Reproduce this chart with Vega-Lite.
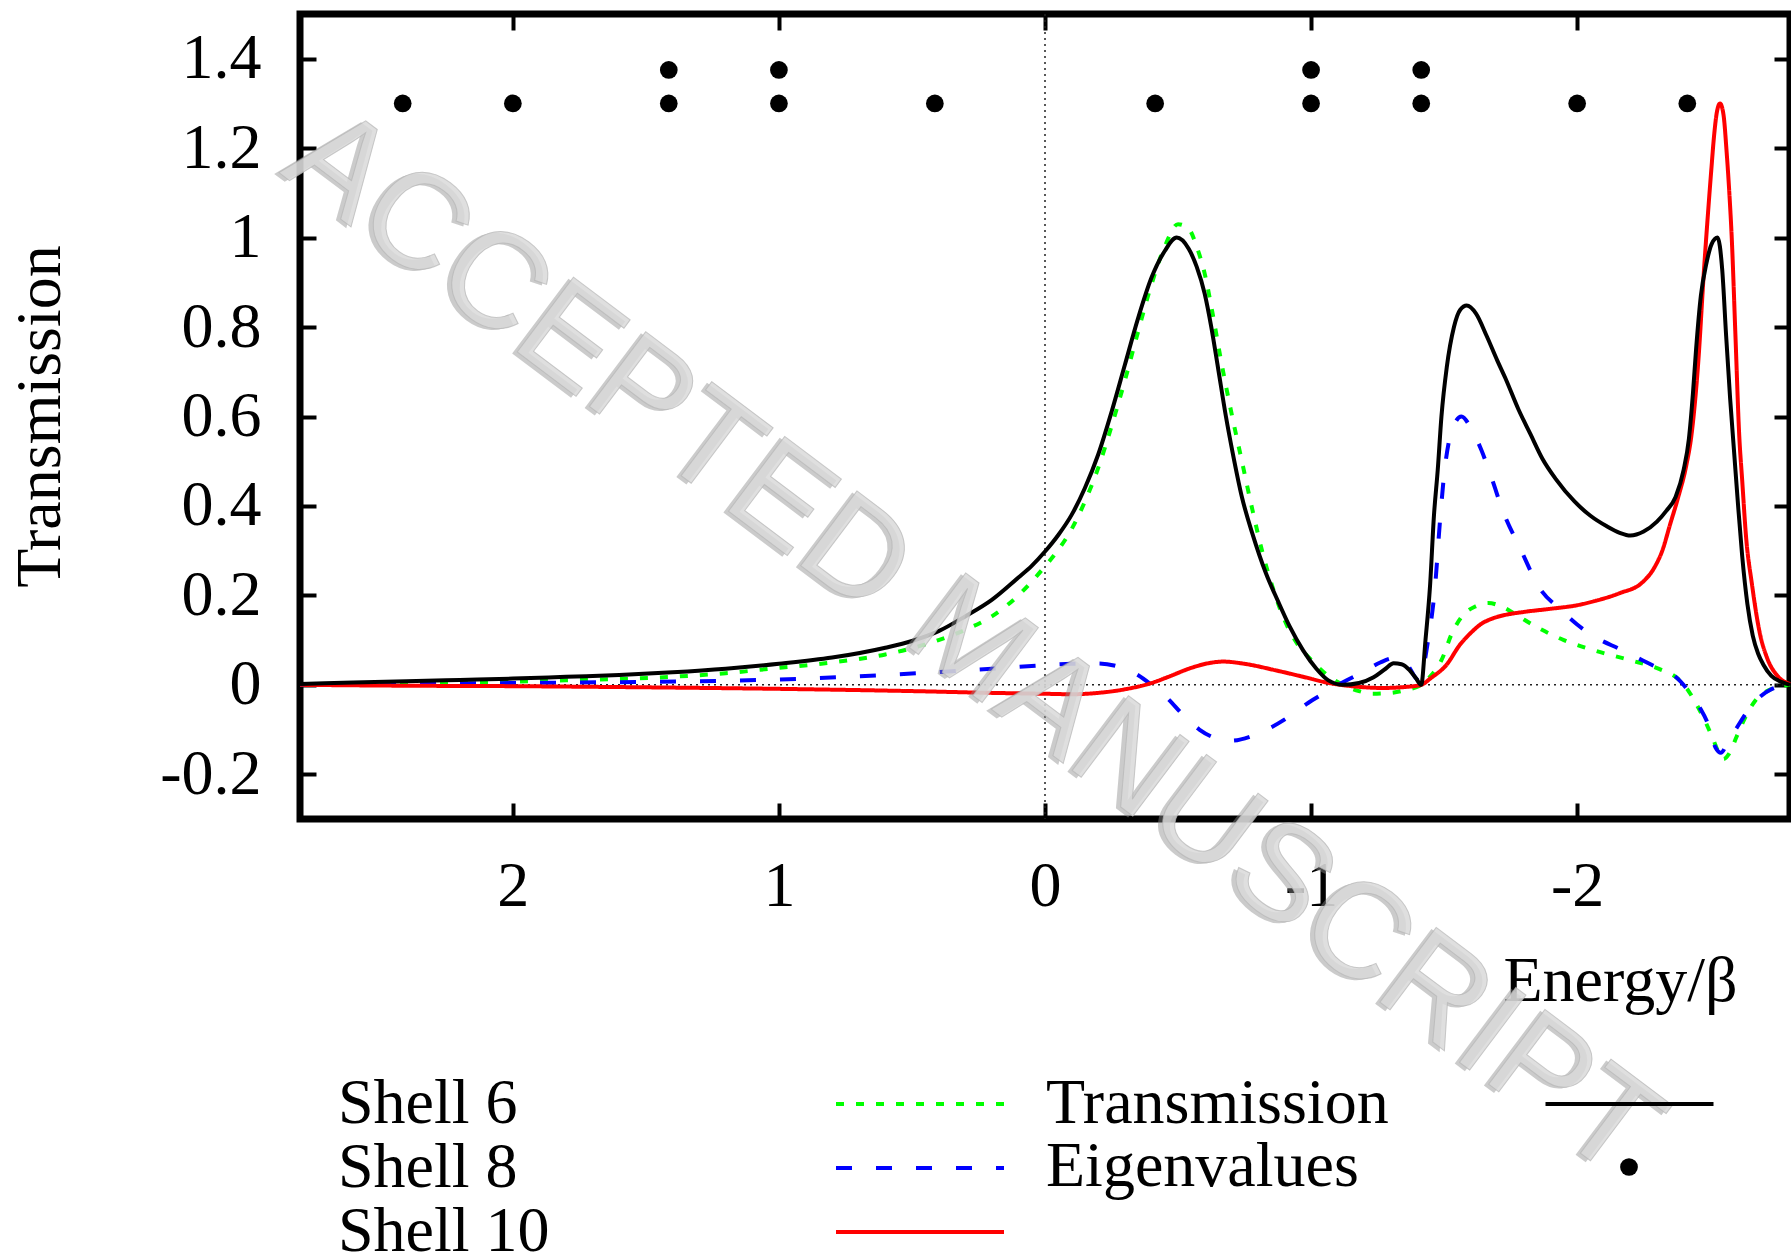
{
  "$schema": "https://vega.github.io/schema/vega-lite/v6.json",
  "autosize": {"type": "none"},
  "width": 1490,
  "height": 805,
  "padding": {"left": 300, "top": 14, "right": 1, "bottom": 439},
  "background": "white",
  "config": {
    "view": {"stroke": "black", "strokeWidth": 7},
    "font": "Liberation Serif",
    "axis": {"grid": false, "domain": false, "tickColor": "black", "tickWidth": 4, "tickSize": -16, "labelFont": "Liberation Serif", "labelFontSize": 64, "labelColor": "black", "titleFont": "Liberation Serif", "titleFontSize": 64, "titleFontWeight": "normal", "titleColor": "black", "labelOverlap": false, "labelFlush": false}
  },
  "datasets": {
    "shells": [
      {"series": "Shell 6", "E": 2.8, "T": 0.0}, {"series": "Shell 6", "E": 2.6, "T": 0.002}, {"series": "Shell 6", "E": 2.4, "T": 0.003}, {"series": "Shell 6", "E": 2.2, "T": 0.005}, {"series": "Shell 6", "E": 2.0, "T": 0.007}, {"series": "Shell 6", "E": 1.8, "T": 0.01}, {"series": "Shell 6", "E": 1.6, "T": 0.013}, {"series": "Shell 6", "E": 1.4, "T": 0.018}, {"series": "Shell 6", "E": 1.2, "T": 0.026}, {"series": "Shell 6", "E": 1.0, "T": 0.038}, {"series": "Shell 6", "E": 0.8, "T": 0.05}, {"series": "Shell 6", "E": 0.6, "T": 0.068}, {"series": "Shell 6", "E": 0.5, "T": 0.082}, {"series": "Shell 6", "E": 0.4, "T": 0.1}, {"series": "Shell 6", "E": 0.3, "T": 0.123}, {"series": "Shell 6", "E": 0.2, "T": 0.153}, {"series": "Shell 6", "E": 0.1, "T": 0.2}, {"series": "Shell 6", "E": 0.0, "T": 0.265}, {"series": "Shell 6", "E": -0.05, "T": 0.302}, {"series": "Shell 6", "E": -0.1, "T": 0.348}, {"series": "Shell 6", "E": -0.15, "T": 0.41}, {"series": "Shell 6", "E": -0.2, "T": 0.485}, {"series": "Shell 6", "E": -0.25, "T": 0.578}, {"series": "Shell 6", "E": -0.3, "T": 0.68}, {"series": "Shell 6", "E": -0.35, "T": 0.79}, {"series": "Shell 6", "E": -0.4, "T": 0.895}, {"series": "Shell 6", "E": -0.45, "T": 0.98}, {"series": "Shell 6", "E": -0.5, "T": 1.03}, {"series": "Shell 6", "E": -0.54, "T": 1.02}, {"series": "Shell 6", "E": -0.57, "T": 0.98}, {"series": "Shell 6", "E": -0.6, "T": 0.92}, {"series": "Shell 6", "E": -0.63, "T": 0.83}, {"series": "Shell 6", "E": -0.66, "T": 0.73}, {"series": "Shell 6", "E": -0.7, "T": 0.61}, {"series": "Shell 6", "E": -0.74, "T": 0.5}, {"series": "Shell 6", "E": -0.78, "T": 0.39}, {"series": "Shell 6", "E": -0.82, "T": 0.29}, {"series": "Shell 6", "E": -0.86, "T": 0.21}, {"series": "Shell 6", "E": -0.9, "T": 0.145}, {"series": "Shell 6", "E": -0.95, "T": 0.09}, {"series": "Shell 6", "E": -1.0, "T": 0.056}, {"series": "Shell 6", "E": -1.06, "T": 0.022}, {"series": "Shell 6", "E": -1.12, "T": 0.0}, {"series": "Shell 6", "E": -1.18, "T": -0.014}, {"series": "Shell 6", "E": -1.23, "T": -0.02}, {"series": "Shell 6", "E": -1.3, "T": -0.018}, {"series": "Shell 6", "E": -1.36, "T": -0.011}, {"series": "Shell 6", "E": -1.414, "T": 0.0}, {"series": "Shell 6", "E": -1.45, "T": 0.02}, {"series": "Shell 6", "E": -1.49, "T": 0.055}, {"series": "Shell 6", "E": -1.53, "T": 0.116}, {"series": "Shell 6", "E": -1.57, "T": 0.155}, {"series": "Shell 6", "E": -1.62, "T": 0.176}, {"series": "Shell 6", "E": -1.666, "T": 0.183}, {"series": "Shell 6", "E": -1.72, "T": 0.174}, {"series": "Shell 6", "E": -1.78, "T": 0.153}, {"series": "Shell 6", "E": -1.855, "T": 0.127}, {"series": "Shell 6", "E": -1.95, "T": 0.1}, {"series": "Shell 6", "E": -2.07, "T": 0.076}, {"series": "Shell 6", "E": -2.2, "T": 0.055}, {"series": "Shell 6", "E": -2.31, "T": 0.035}, {"series": "Shell 6", "E": -2.38, "T": 0.013}, {"series": "Shell 6", "E": -2.42, "T": -0.015}, {"series": "Shell 6", "E": -2.45, "T": -0.045}, {"series": "Shell 6", "E": -2.48, "T": -0.08}, {"series": "Shell 6", "E": -2.51, "T": -0.12}, {"series": "Shell 6", "E": -2.535, "T": -0.155}, {"series": "Shell 6", "E": -2.55, "T": -0.166}, {"series": "Shell 6", "E": -2.57, "T": -0.155}, {"series": "Shell 6", "E": -2.6, "T": -0.115}, {"series": "Shell 6", "E": -2.63, "T": -0.075}, {"series": "Shell 6", "E": -2.67, "T": -0.035}, {"series": "Shell 6", "E": -2.72, "T": -0.012}, {"series": "Shell 6", "E": -2.76, "T": -0.004}, {"series": "Shell 6", "E": -2.8, "T": 0.0},

      {"series": "Shell 8", "E": 2.8, "T": 0.0}, {"series": "Shell 8", "E": 2.4, "T": 0.002}, {"series": "Shell 8", "E": 2.0, "T": 0.004}, {"series": "Shell 8", "E": 1.6, "T": 0.006}, {"series": "Shell 8", "E": 1.3, "T": 0.008}, {"series": "Shell 8", "E": 1.0, "T": 0.012}, {"series": "Shell 8", "E": 0.7, "T": 0.019}, {"series": "Shell 8", "E": 0.42, "T": 0.028}, {"series": "Shell 8", "E": 0.2, "T": 0.036}, {"series": "Shell 8", "E": 0.0, "T": 0.044}, {"series": "Shell 8", "E": -0.1, "T": 0.047}, {"series": "Shell 8", "E": -0.2, "T": 0.048}, {"series": "Shell 8", "E": -0.28, "T": 0.04}, {"series": "Shell 8", "E": -0.34, "T": 0.025}, {"series": "Shell 8", "E": -0.4, "T": 0.0}, {"series": "Shell 8", "E": -0.46, "T": -0.03}, {"series": "Shell 8", "E": -0.52, "T": -0.068}, {"series": "Shell 8", "E": -0.58, "T": -0.1}, {"series": "Shell 8", "E": -0.645, "T": -0.12}, {"series": "Shell 8", "E": -0.7, "T": -0.125}, {"series": "Shell 8", "E": -0.776, "T": -0.115}, {"series": "Shell 8", "E": -0.85, "T": -0.095}, {"series": "Shell 8", "E": -0.92, "T": -0.07}, {"series": "Shell 8", "E": -0.99, "T": -0.04}, {"series": "Shell 8", "E": -1.06, "T": -0.015}, {"series": "Shell 8", "E": -1.12, "T": 0.006}, {"series": "Shell 8", "E": -1.2, "T": 0.03}, {"series": "Shell 8", "E": -1.26, "T": 0.05}, {"series": "Shell 8", "E": -1.313, "T": 0.06}, {"series": "Shell 8", "E": -1.36, "T": 0.046}, {"series": "Shell 8", "E": -1.405, "T": 0.01}, {"series": "Shell 8", "E": -1.44, "T": 0.1}, {"series": "Shell 8", "E": -1.466, "T": 0.22}, {"series": "Shell 8", "E": -1.485, "T": 0.37}, {"series": "Shell 8", "E": -1.5, "T": 0.47}, {"series": "Shell 8", "E": -1.52, "T": 0.55}, {"series": "Shell 8", "E": -1.545, "T": 0.59}, {"series": "Shell 8", "E": -1.565, "T": 0.6}, {"series": "Shell 8", "E": -1.6, "T": 0.575}, {"series": "Shell 8", "E": -1.64, "T": 0.525}, {"series": "Shell 8", "E": -1.68, "T": 0.46}, {"series": "Shell 8", "E": -1.72, "T": 0.39}, {"series": "Shell 8", "E": -1.79, "T": 0.3}, {"series": "Shell 8", "E": -1.855, "T": 0.22}, {"series": "Shell 8", "E": -1.94, "T": 0.167}, {"series": "Shell 8", "E": -2.0, "T": 0.135}, {"series": "Shell 8", "E": -2.07, "T": 0.106}, {"series": "Shell 8", "E": -2.16, "T": 0.08}, {"series": "Shell 8", "E": -2.245, "T": 0.055}, {"series": "Shell 8", "E": -2.31, "T": 0.036}, {"series": "Shell 8", "E": -2.37, "T": 0.018}, {"series": "Shell 8", "E": -2.42, "T": -0.015}, {"series": "Shell 8", "E": -2.46, "T": -0.05}, {"series": "Shell 8", "E": -2.49, "T": -0.085}, {"series": "Shell 8", "E": -2.52, "T": -0.14}, {"series": "Shell 8", "E": -2.54, "T": -0.152}, {"series": "Shell 8", "E": -2.565, "T": -0.13}, {"series": "Shell 8", "E": -2.6, "T": -0.096}, {"series": "Shell 8", "E": -2.66, "T": -0.043}, {"series": "Shell 8", "E": -2.73, "T": -0.01}, {"series": "Shell 8", "E": -2.8, "T": 0.0},

      {"series": "Shell 10", "E": 2.8, "T": 0.0}, {"series": "Shell 10", "E": 2.4, "T": -0.002}, {"series": "Shell 10", "E": 2.0, "T": -0.003}, {"series": "Shell 10", "E": 1.6, "T": -0.005}, {"series": "Shell 10", "E": 1.0, "T": -0.009}, {"series": "Shell 10", "E": 0.5, "T": -0.014}, {"series": "Shell 10", "E": 0.2, "T": -0.018}, {"series": "Shell 10", "E": 0.0, "T": -0.02}, {"series": "Shell 10", "E": -0.1, "T": -0.021}, {"series": "Shell 10", "E": -0.2, "T": -0.018}, {"series": "Shell 10", "E": -0.3, "T": -0.01}, {"series": "Shell 10", "E": -0.4, "T": 0.004}, {"series": "Shell 10", "E": -0.46, "T": 0.017}, {"series": "Shell 10", "E": -0.55, "T": 0.038}, {"series": "Shell 10", "E": -0.62, "T": 0.049}, {"series": "Shell 10", "E": -0.67, "T": 0.052}, {"series": "Shell 10", "E": -0.75, "T": 0.047}, {"series": "Shell 10", "E": -0.87, "T": 0.032}, {"series": "Shell 10", "E": -0.97, "T": 0.018}, {"series": "Shell 10", "E": -1.06, "T": 0.005}, {"series": "Shell 10", "E": -1.17, "T": -0.004}, {"series": "Shell 10", "E": -1.27, "T": -0.007}, {"series": "Shell 10", "E": -1.35, "T": -0.005}, {"series": "Shell 10", "E": -1.414, "T": 0.0}, {"series": "Shell 10", "E": -1.45, "T": 0.015}, {"series": "Shell 10", "E": -1.508, "T": 0.044}, {"series": "Shell 10", "E": -1.56, "T": 0.09}, {"series": "Shell 10", "E": -1.6, "T": 0.116}, {"series": "Shell 10", "E": -1.639, "T": 0.136}, {"series": "Shell 10", "E": -1.68, "T": 0.148}, {"series": "Shell 10", "E": -1.72, "T": 0.155}, {"series": "Shell 10", "E": -1.8, "T": 0.163}, {"series": "Shell 10", "E": -1.9, "T": 0.17}, {"series": "Shell 10", "E": -2.0, "T": 0.178}, {"series": "Shell 10", "E": -2.07, "T": 0.188}, {"series": "Shell 10", "E": -2.16, "T": 0.205}, {"series": "Shell 10", "E": -2.245, "T": 0.229}, {"series": "Shell 10", "E": -2.29, "T": 0.262}, {"series": "Shell 10", "E": -2.32, "T": 0.3}, {"series": "Shell 10", "E": -2.35, "T": 0.36}, {"series": "Shell 10", "E": -2.38, "T": 0.42}, {"series": "Shell 10", "E": -2.41, "T": 0.49}, {"series": "Shell 10", "E": -2.43, "T": 0.56}, {"series": "Shell 10", "E": -2.455, "T": 0.72}, {"series": "Shell 10", "E": -2.477, "T": 0.93}, {"series": "Shell 10", "E": -2.49, "T": 1.04}, {"series": "Shell 10", "E": -2.504, "T": 1.15}, {"series": "Shell 10", "E": -2.515, "T": 1.23}, {"series": "Shell 10", "E": -2.525, "T": 1.28}, {"series": "Shell 10", "E": -2.537, "T": 1.3}, {"series": "Shell 10", "E": -2.55, "T": 1.275}, {"series": "Shell 10", "E": -2.562, "T": 1.19}, {"series": "Shell 10", "E": -2.572, "T": 1.1}, {"series": "Shell 10", "E": -2.581, "T": 1.0}, {"series": "Shell 10", "E": -2.595, "T": 0.78}, {"series": "Shell 10", "E": -2.609, "T": 0.56}, {"series": "Shell 10", "E": -2.62, "T": 0.46}, {"series": "Shell 10", "E": -2.635, "T": 0.33}, {"series": "Shell 10", "E": -2.657, "T": 0.225}, {"series": "Shell 10", "E": -2.685, "T": 0.12}, {"series": "Shell 10", "E": -2.714, "T": 0.06}, {"series": "Shell 10", "E": -2.75, "T": 0.022}, {"series": "Shell 10", "E": -2.8, "T": 0.002}
    ],
    "exact": [
      {"kind": "Transmission", "E": 2.8, "T": 0.002}, {"kind": "Transmission", "E": 2.6, "T": 0.005}, {"kind": "Transmission", "E": 2.4, "T": 0.008}, {"kind": "Transmission", "E": 2.2, "T": 0.011}, {"kind": "Transmission", "E": 2.0, "T": 0.014}, {"kind": "Transmission", "E": 1.8, "T": 0.018}, {"kind": "Transmission", "E": 1.6, "T": 0.022}, {"kind": "Transmission", "E": 1.4, "T": 0.028}, {"kind": "Transmission", "E": 1.2, "T": 0.036}, {"kind": "Transmission", "E": 1.0, "T": 0.047}, {"kind": "Transmission", "E": 0.8, "T": 0.061}, {"kind": "Transmission", "E": 0.6, "T": 0.083}, {"kind": "Transmission", "E": 0.5, "T": 0.098}, {"kind": "Transmission", "E": 0.4, "T": 0.12}, {"kind": "Transmission", "E": 0.3, "T": 0.153}, {"kind": "Transmission", "E": 0.2, "T": 0.19}, {"kind": "Transmission", "E": 0.1, "T": 0.24}, {"kind": "Transmission", "E": 0.05, "T": 0.266}, {"kind": "Transmission", "E": 0.0, "T": 0.298}, {"kind": "Transmission", "E": -0.05, "T": 0.335}, {"kind": "Transmission", "E": -0.1, "T": 0.38}, {"kind": "Transmission", "E": -0.15, "T": 0.44}, {"kind": "Transmission", "E": -0.2, "T": 0.515}, {"kind": "Transmission", "E": -0.25, "T": 0.61}, {"kind": "Transmission", "E": -0.3, "T": 0.715}, {"kind": "Transmission", "E": -0.35, "T": 0.82}, {"kind": "Transmission", "E": -0.4, "T": 0.91}, {"kind": "Transmission", "E": -0.45, "T": 0.97}, {"kind": "Transmission", "E": -0.495, "T": 1.0}, {"kind": "Transmission", "E": -0.54, "T": 0.975}, {"kind": "Transmission", "E": -0.57, "T": 0.935}, {"kind": "Transmission", "E": -0.6, "T": 0.875}, {"kind": "Transmission", "E": -0.625, "T": 0.8}, {"kind": "Transmission", "E": -0.65, "T": 0.71}, {"kind": "Transmission", "E": -0.68, "T": 0.6}, {"kind": "Transmission", "E": -0.705, "T": 0.52}, {"kind": "Transmission", "E": -0.74, "T": 0.42}, {"kind": "Transmission", "E": -0.78, "T": 0.337}, {"kind": "Transmission", "E": -0.83, "T": 0.25}, {"kind": "Transmission", "E": -0.875, "T": 0.188}, {"kind": "Transmission", "E": -0.92, "T": 0.13}, {"kind": "Transmission", "E": -0.97, "T": 0.077}, {"kind": "Transmission", "E": -1.02, "T": 0.036}, {"kind": "Transmission", "E": -1.065, "T": 0.01}, {"kind": "Transmission", "E": -1.12, "T": 0.0}, {"kind": "Transmission", "E": -1.18, "T": 0.004}, {"kind": "Transmission", "E": -1.235, "T": 0.017}, {"kind": "Transmission", "E": -1.28, "T": 0.036}, {"kind": "Transmission", "E": -1.31, "T": 0.048}, {"kind": "Transmission", "E": -1.34, "T": 0.046}, {"kind": "Transmission", "E": -1.37, "T": 0.033}, {"kind": "Transmission", "E": -1.395, "T": 0.014}, {"kind": "Transmission", "E": -1.414, "T": 0.0}, {"kind": "Transmission", "E": -1.43, "T": 0.1}, {"kind": "Transmission", "E": -1.447, "T": 0.22}, {"kind": "Transmission", "E": -1.462, "T": 0.38}, {"kind": "Transmission", "E": -1.476, "T": 0.48}, {"kind": "Transmission", "E": -1.49, "T": 0.6}, {"kind": "Transmission", "E": -1.51, "T": 0.71}, {"kind": "Transmission", "E": -1.537, "T": 0.8}, {"kind": "Transmission", "E": -1.56, "T": 0.838}, {"kind": "Transmission", "E": -1.585, "T": 0.848}, {"kind": "Transmission", "E": -1.62, "T": 0.83}, {"kind": "Transmission", "E": -1.66, "T": 0.78}, {"kind": "Transmission", "E": -1.7, "T": 0.725}, {"kind": "Transmission", "E": -1.73, "T": 0.686}, {"kind": "Transmission", "E": -1.78, "T": 0.615}, {"kind": "Transmission", "E": -1.825, "T": 0.56}, {"kind": "Transmission", "E": -1.87, "T": 0.505}, {"kind": "Transmission", "E": -1.92, "T": 0.46}, {"kind": "Transmission", "E": -1.99, "T": 0.41}, {"kind": "Transmission", "E": -2.05, "T": 0.378}, {"kind": "Transmission", "E": -2.11, "T": 0.355}, {"kind": "Transmission", "E": -2.16, "T": 0.34}, {"kind": "Transmission", "E": -2.2, "T": 0.334}, {"kind": "Transmission", "E": -2.25, "T": 0.343}, {"kind": "Transmission", "E": -2.3, "T": 0.365}, {"kind": "Transmission", "E": -2.335, "T": 0.389}, {"kind": "Transmission", "E": -2.37, "T": 0.42}, {"kind": "Transmission", "E": -2.4, "T": 0.48}, {"kind": "Transmission", "E": -2.42, "T": 0.55}, {"kind": "Transmission", "E": -2.435, "T": 0.65}, {"kind": "Transmission", "E": -2.447, "T": 0.75}, {"kind": "Transmission", "E": -2.465, "T": 0.87}, {"kind": "Transmission", "E": -2.485, "T": 0.94}, {"kind": "Transmission", "E": -2.505, "T": 0.985}, {"kind": "Transmission", "E": -2.528, "T": 1.0}, {"kind": "Transmission", "E": -2.545, "T": 0.93}, {"kind": "Transmission", "E": -2.56, "T": 0.78}, {"kind": "Transmission", "E": -2.575, "T": 0.64}, {"kind": "Transmission", "E": -2.59, "T": 0.52}, {"kind": "Transmission", "E": -2.605, "T": 0.4}, {"kind": "Transmission", "E": -2.62, "T": 0.29}, {"kind": "Transmission", "E": -2.64, "T": 0.18}, {"kind": "Transmission", "E": -2.66, "T": 0.11}, {"kind": "Transmission", "E": -2.68, "T": 0.07}, {"kind": "Transmission", "E": -2.7, "T": 0.045}, {"kind": "Transmission", "E": -2.73, "T": 0.02}, {"kind": "Transmission", "E": -2.77, "T": 0.006}, {"kind": "Transmission", "E": -2.8, "T": 0.0}
    ],
    "eig": [
      {"kind": "Eigenvalues", "E": 2.414, "y": 1.3}, {"kind": "Eigenvalues", "E": 2.0, "y": 1.3}, {"kind": "Eigenvalues", "E": 1.414, "y": 1.3}, {"kind": "Eigenvalues", "E": 1.414, "y": 1.375}, {"kind": "Eigenvalues", "E": 1.0, "y": 1.3}, {"kind": "Eigenvalues", "E": 1.0, "y": 1.375}, {"kind": "Eigenvalues", "E": 0.414, "y": 1.3}, {"kind": "Eigenvalues", "E": -0.414, "y": 1.3}, {"kind": "Eigenvalues", "E": -1.0, "y": 1.3}, {"kind": "Eigenvalues", "E": -1.0, "y": 1.375}, {"kind": "Eigenvalues", "E": -1.414, "y": 1.3}, {"kind": "Eigenvalues", "E": -1.414, "y": 1.375}, {"kind": "Eigenvalues", "E": -2.0, "y": 1.3}, {"kind": "Eigenvalues", "E": -2.414, "y": 1.3}
    ]
  },
  "layer": [
    {
      "data": {"values": [{}]},
      "mark": {"type": "rule", "color": "#222222", "strokeWidth": 1.5, "strokeDash": [2, 4]},
      "encoding": {"y": {"datum": 0, "type": "quantitative", "scale": {"domain": [-0.3, 1.5], "nice": false, "zero": false}, "axis": null}}
    },
    {
      "data": {"values": [{}]},
      "mark": {"type": "rule", "color": "#222222", "strokeWidth": 1.5, "strokeDash": [2, 4]},
      "encoding": {"x": {"datum": 0, "type": "quantitative", "scale": {"domain": [-2.8, 2.8], "reverse": true, "nice": false, "zero": false}, "axis": null}}
    },
    {
      "data": {"name": "shells"},
      "mark": {"type": "line", "strokeWidth": 4, "interpolate": "monotone"},
      "encoding": {
        "x": {"field": "E", "type": "quantitative", "scale": {"domain": [-2.8, 2.8], "reverse": true, "nice": false, "zero": false},
              "axis": {"orient": "top", "values": [2, 1, 0, -1, -2], "labels": false, "title": null}},
        "y": {"field": "T", "type": "quantitative", "scale": {"domain": [-0.3, 1.5], "nice": false, "zero": false},
              "axis": {"orient": "right", "values": [-0.2, 0, 0.2, 0.4, 0.6, 0.8, 1, 1.2, 1.4], "labels": false, "title": null}},
        "color": {"field": "series", "type": "nominal",
                  "scale": {"domain": ["Shell 6", "Shell 8", "Shell 10"], "range": ["#00ff00", "#0000ff", "#ff0000"]},
                  "legend": {"title": null, "orient": "none", "legendX": 588, "legendY": 1058, "direction": "vertical", "symbolType": "M-5.25,0H5.25", "symbolSize": 1024, "symbolStrokeWidth": 4, "labelOffset": -614, "labelFont": "Liberation Serif", "labelFontSize": 64, "labelColor": "black", "labelLimit": 1000, "rowPadding": 0, "padding": 0,
                             "encode": {"symbols": {"update": {"strokeDash": {"signal": "datum.value === 'Shell 6' ? [8, 12] : datum.value === 'Shell 8' ? [16, 24] : [1, 0]"}}}}}},
        "strokeDash": {"field": "series", "type": "nominal",
                  "scale": {"domain": ["Shell 6", "Shell 8", "Shell 10"], "range": [[8, 12], [16, 24], [1, 0]]},
                  "legend": null}
      }
    },
    {
      "data": {"name": "exact"},
      "mark": {"type": "line", "strokeWidth": 4, "interpolate": "monotone"},
      "encoding": {
        "x": {"field": "E", "type": "quantitative", "scale": {"domain": [-2.8, 2.8], "reverse": true, "nice": false, "zero": false},
              "axis": {"orient": "bottom", "values": [2, 1, 0, -1, -2], "format": "~g", "labelExpr": "(datum.value >= 0 ? '\u00a0' : '') + replace(datum.label, '\u2212', '-')", "labelPadding": 102, "labelBaseline": "alphabetic", "labelAlign": "center", "title": "Energy/β", "titleX": 1320, "titleY": 181, "titleAlign": "center", "titleBaseline": "alphabetic"}},
        "y": {"field": "T", "type": "quantitative", "scale": {"domain": [-0.3, 1.5], "nice": false, "zero": false},
              "axis": {"orient": "left", "values": [-0.2, 0, 0.2, 0.4, 0.6, 0.8, 1, 1.2, 1.4], "format": "~g", "labelExpr": "replace(datum.label, '\u2212', '-')", "labelPadding": 55, "labelAlign": "right", "labelBaseline": "middle", "title": "Transmission", "titleX": -241, "titleY": 402, "titleAngle": 270, "titleAlign": "center", "titleBaseline": "alphabetic"}},
        "color": {"field": "kind", "type": "nominal", "scale": {"domain": ["Transmission"], "range": ["black"]},
                  "legend": {"title": null, "orient": "none", "legendX": 1297.5, "legendY": 1058, "direction": "vertical", "symbolType": "M-5.25,0H5.25", "symbolSize": 1024, "symbolStrokeWidth": 4, "labelOffset": -615.5, "labelFont": "Liberation Serif", "labelFontSize": 64, "labelColor": "black", "labelLimit": 1000, "rowPadding": 0, "padding": 0}}
      }
    },
    {
      "data": {"name": "eig"},
      "mark": {"type": "point", "filled": true, "shape": "circle", "size": 314, "opacity": 1},
      "encoding": {
        "x": {"field": "E", "type": "quantitative", "scale": {"domain": [-2.8, 2.8], "reverse": true, "nice": false, "zero": false}, "axis": null},
        "y": {"field": "y", "type": "quantitative", "scale": {"domain": [-0.3, 1.5], "nice": false, "zero": false}, "axis": null},
        "color": {"field": "kind", "type": "nominal", "scale": {"domain": ["Eigenvalues"], "range": ["black"]},
                  "legend": {"title": null, "orient": "none", "legendX": 1297, "legendY": 1121, "direction": "vertical", "symbolType": "circle", "symbolSize": 314, "symbolStrokeWidth": 0, "labelOffset": -615, "labelFont": "Liberation Serif", "labelFontSize": 64, "labelColor": "black", "labelLimit": 1000, "rowPadding": 0, "padding": 0}}
      }
    },
    {
      "data": {"values": [{}]},
      "mark": {"type": "text", "text": "ACCEPTED MANUSCRIPT", "angle": 37, "font": "Liberation Sans", "fontSize": 136, "align": "center", "baseline": "alphabetic", "dx": -3, "dy": 4, "fill": "#8c8c8c", "fillOpacity": 0.45},
      "encoding": {
        "x": {"datum": 0.362, "type": "quantitative", "scale": {"domain": [-2.8, 2.8], "reverse": true, "nice": false, "zero": false}, "axis": null},
        "y": {"datum": 0.017, "type": "quantitative", "scale": {"domain": [-0.3, 1.5], "nice": false, "zero": false}, "axis": null}
      }
    },
    {
      "data": {"values": [{}]},
      "mark": {"type": "text", "text": "ACCEPTED MANUSCRIPT", "angle": 37, "font": "Liberation Sans", "fontSize": 136, "align": "center", "baseline": "alphabetic", "fill": "#d9d9d9", "fillOpacity": 0.85, "stroke": "#b5b5b5", "strokeWidth": 1, "strokeOpacity": 0.7},
      "encoding": {
        "x": {"datum": 0.362, "type": "quantitative", "scale": {"domain": [-2.8, 2.8], "reverse": true, "nice": false, "zero": false}, "axis": null},
        "y": {"datum": 0.017, "type": "quantitative", "scale": {"domain": [-0.3, 1.5], "nice": false, "zero": false}, "axis": null}
      }
    }
  ],
  "resolve": {"scale": {"color": "independent"}, "axis": {"x": "independent", "y": "independent"}}
}
